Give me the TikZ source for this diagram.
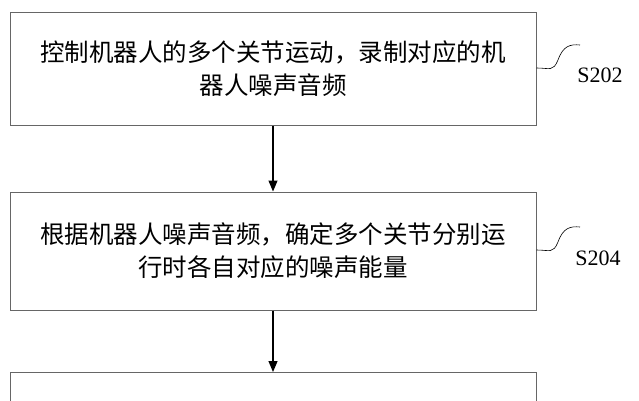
\documentclass[tikz,border=0pt]{standalone}
\usepackage{fontspec}
\setmainfont{Liberation Serif}
\newfontfamily\cjk{Noto Sans CJK SC}
\usetikzlibrary{arrows.meta}
\begin{document}
\begin{tikzpicture}[x=1pt,y=1pt,
  stepbox/.style={draw=black!60,line width=1pt,minimum width=526pt,align=center,
    font=\cjk\fontsize{24.5}{33}\selectfont,inner sep=0pt},
  flow/.style={-{Triangle[length=11pt,width=9pt]},line width=1.2pt},
  tag/.style={font=\fontsize{22}{26}\selectfont}]
\path[use as bounding box] (0,0) rectangle (639,400);
\begin{scope}
\path[clip] (0,0) rectangle (639,400);
\node[stepbox,minimum height=112pt] (s202) at (273,331) {控制机器人的多个关节运动，录制对应的机\\器人噪声音频};
\node[stepbox,minimum height=118pt] (s204) at (273,149) {根据机器人噪声音频，确定多个关节分别运\\行时各自对应的噪声能量};
\node[stepbox,minimum height=80pt,anchor=north] (s206) at (273,28) {};
\draw[flow] (s202.south) -- (s204.north);
\draw[flow] (s204.south) -- (s206.north);
% labels
\node[tag] (l202) at (600,325) {S202};
\node[tag] (l204) at (598,142) {S204};
\draw[line width=0.6pt] (s202.east |- 0,332) .. controls (550,332) and (553,328) .. (558,340)
  .. controls (563,354) and (570,356) .. (580,355);
\draw[line width=0.6pt] (s204.east |- 0,150) .. controls (550,150) and (553,146) .. (558,158)
  .. controls (563,172) and (570,174) .. (580,173);
\end{scope}
\end{tikzpicture}
\end{document}
